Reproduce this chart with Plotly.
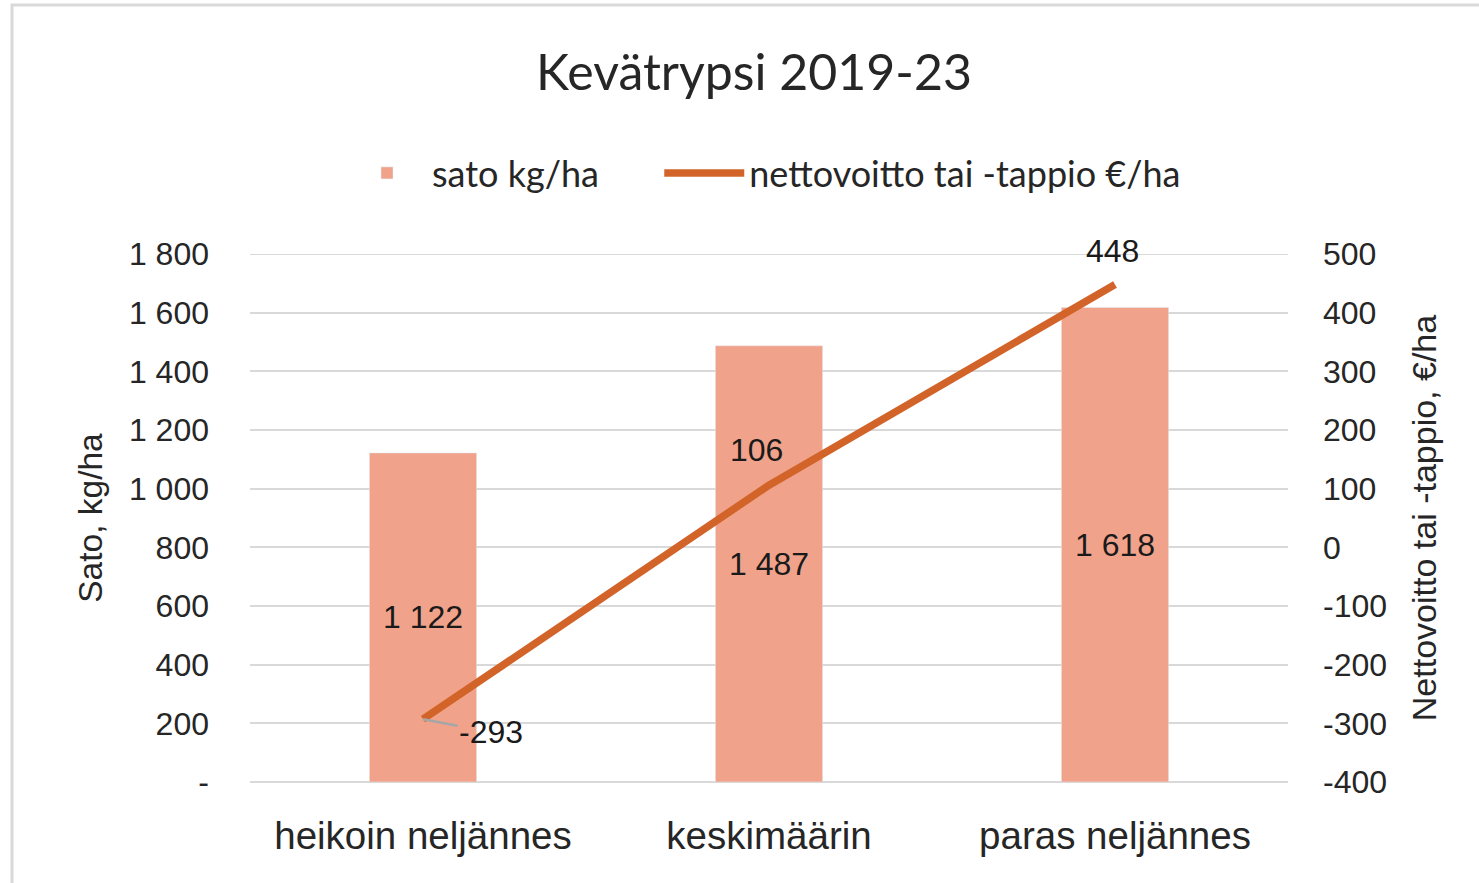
import plotly.graph_objects as go

categories = ["heikoin neljännes", "keskimäärin", "paras neljännes"]
sato = [1122, 1487, 1618]
netto = [-293, 106, 448]
sato_labels = ["1 122", "1 487", "1 618"]
netto_labels = ["-293", "106", "448"]

left_ticks = [0, 200, 400, 600, 800, 1000, 1200, 1400, 1600, 1800]
left_ticktext = ["-", "200", "400", "600", "800", "1 000", "1 200", "1 400", "1 600", "1 800"]
right_ticks = [-400, -300, -200, -100, 0, 100, 200, 300, 400, 500]
right_ticktext = ["-400", "-300", "-200", "-100", "0", "100", "200", "300", "400", "500"]

BAR = "#F0A38A"
LINE = "#D2642A"
TXT = "#262626"
GRID = "#D9D9D9"
TICKFONT = "Liberation Sans"

W, H = 1479, 883
L, R, T, B = 250, 191, 254, 101

fig = go.Figure()
fig.add_trace(go.Bar(
    x=categories, y=sato, name="sato kg/ha" + "\u00a0" * 6, marker_color=BAR,
    width=0.31, text=sato_labels, textposition="inside", insidetextanchor="middle",
    textfont=dict(size=32, color="#1a1a1a", family=TICKFONT), yaxis="y",
    textangle=0,
))
fig.add_trace(go.Scatter(
    x=categories, y=netto, name="nettovoitto tai -tappio €/ha", mode="lines",
    line=dict(color=LINE, width=7.5), yaxis="y2",
))

# line data labels (pixel offsets from the data point)
offsets = [(68, 13), (-13, -35), (-3, -34)]
for i, (c, v, t) in enumerate(zip(categories, netto, netto_labels)):
    ax, ay = offsets[i]
    if i == 0:
        fig.add_annotation(x=c, y=v, xref="x", yref="y2", text=t, showarrow=True,
                           ax=ax, ay=ay, arrowhead=0, arrowwidth=2.5, arrowcolor="#A6A6A6",
                           standoff=0, startstandoff=0,
                           font=dict(size=32, color="#1a1a1a", family=TICKFONT))
    else:
        fig.add_annotation(x=c, y=v, xref="x", yref="y2", text=t, showarrow=False,
                           xshift=ax, yshift=-ay,
                           font=dict(size=32, color="#1a1a1a", family=TICKFONT))

# top gridline (plotly drops gridlines lying on the plot edge)
fig.add_shape(type="line", xref="paper", yref="y", x0=0, x1=1,
              y0=left_ticks[-1], y1=left_ticks[-1], line=dict(color=GRID, width=2), layer="below")

pw, ph = W - L - R, H - T - B
fig.add_shape(type="rect", xref="paper", yref="paper",
              x0=(12 - L) / pw, x1=(W + 20 - L) / pw,
              y0=(H - B - (H + 20)) / ph, y1=(H - B - 5) / ph,
              line=dict(color=GRID, width=3), fillcolor="rgba(0,0,0,0)", layer="below")

fig.update_layout(
    width=W, height=H,
    margin=dict(l=L, r=R, t=T, b=B),
    paper_bgcolor="white", plot_bgcolor="white",
    title=dict(text="Kevätrypsi 2019-23", x=754 / W, xanchor="center", y=1 - 72 / H, yanchor="middle",
               font=dict(size=50, color=TXT, family="Lato")),
    legend=dict(orientation="h", x=342 / W, xref="container", xanchor="left",
                y=1 - 173 / H, yref="container", yanchor="middle",
                font=dict(size=36, color=TXT, family="Lato"),
                itemwidth=80, tracegroupgap=0),
    showlegend=True,
    xaxis=dict(tickfont=dict(size=38.5, color=TXT, family=TICKFONT), showline=False, ticks="",
               showgrid=False, ticklabelstandoff=27),
    yaxis=dict(range=[0, 1800], tickvals=left_ticks, ticktext=left_ticktext,
               tickfont=dict(size=32, color=TXT, family=TICKFONT),
               title=dict(text="Sato, kg/ha", font=dict(size=33.5, color=TXT, family=TICKFONT), standoff=16),
               showgrid=True, gridcolor=GRID, gridwidth=2, zeroline=True,
               zerolinecolor=GRID, zerolinewidth=2, ticks="", showline=False,
               ticklabelstandoff=40),
    yaxis2=dict(range=[-400, 500], tickvals=right_ticks, ticktext=right_ticktext,
                overlaying="y", side="right",
                tickfont=dict(size=32, color=TXT, family=TICKFONT),
                title=dict(text="Nettovoitto tai -tappio, €/ha", font=dict(size=34, color=TXT, family=TICKFONT), standoff=26),
                showgrid=False, zeroline=False, ticks="", showline=False, ticklabelstandoff=34),
)

fig.write_html("out.html", config={"displayModeBar": False},
               post_script="document.body.style.margin='0';document.body.style.overflow='hidden';")
